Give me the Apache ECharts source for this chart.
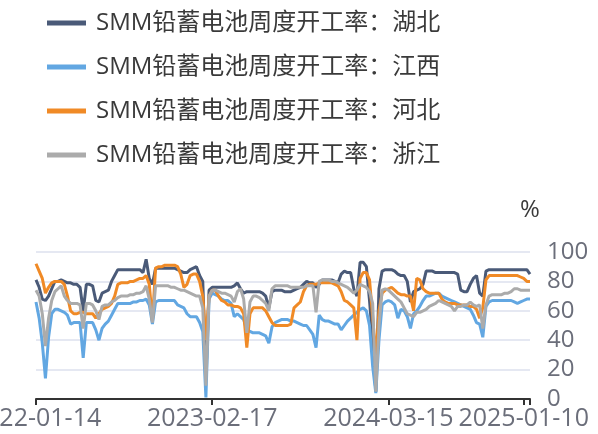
<!DOCTYPE html>
<html>
<head>
<meta charset="utf-8">
<script src="https://cdn.jsdelivr.net/npm/echarts@6/dist/echarts.min.js"></script>
<style>
html,body{margin:0;padding:0;background:#fff;}
#c{width:598px;height:434px;}
</style>
</head>
<body>
<div id="c"></div>
<script>
// Weekly report dates (no report in the Spring Festival week 2023-01-27)
const startDate = '2022-01-14';
const pointCount = 158;
const skippedDates = ['2023-01-27'];
const tickLabels = ['2022-01-14', '2023-02-17', '2024-03-15', '2025-01-10'];

const seriesNames = [
  'SMM铅蓄电池周度开工率：湖北',
  'SMM铅蓄电池周度开工率：江西',
  'SMM铅蓄电池周度开工率：河北',
  'SMM铅蓄电池周度开工率：浙江'
];

const hubei = [
  81, 76, 68, 67, 70, 75, 80, 80, 81, 80,
  79, 79, 78, 78, 76, 60, 78, 78, 77, 67,
  66, 72, 73, 74, 80, 84, 88, 88, 88, 88,
  88, 88, 88, 88, 86, 95, 82, 78, 89, 89,
  89, 89, 89, 89, 89, 88, 87, 86, 86, 88,
  89, 90, 84, 80, 15, 74, 76, 76, 76, 76,
  76, 76, 76, 77, 79, 75, 72, 73, 73, 73,
  73, 73, 72, 70, 62, 73, 74, 74, 74, 73,
  73, 73, 74, 75, 76, 78, 80, 79, 79, 76,
  78, 81, 81, 81, 81, 80, 79, 85, 87, 86,
  86, 75, 70, 93, 93, 90, 67, 40, 5, 75,
  87, 88, 88, 88, 87, 85, 84, 84, 80, 66,
  73, 74, 75, 78, 87, 87, 87, 86, 86, 86,
  86, 86, 86, 86, 85, 74, 73, 73, 78, 82,
  84, 72, 70, 87, 88, 88, 88, 88, 88, 88,
  88, 88, 88, 88, 88, 88, 88, 85
];

const jiangxi = [
  66, 55, 38, 14, 42, 58, 61, 61, 60, 59,
  57, 51, 52, 52, 52, 28, 52, 52, 52, 47,
  40, 48, 51, 53, 57, 61, 65, 65, 65, 65,
  65, 66, 66, 67, 67, 68, 64, 51, 66, 67,
  67, 67, 67, 67, 67, 64, 63, 62, 58, 56,
  56, 56, 52, 46, 1, 68, 72, 71, 70, 68,
  67, 67, 65, 56, 58, 56, 54, 47, 46, 45,
  45, 45, 44, 43, 38, 49, 52, 53, 54, 54,
  54, 53, 53, 52, 51, 50, 50, 47, 44, 35,
  57, 54, 53, 53, 52, 51, 51, 47, 50, 53,
  55, 57, 59, 61, 62, 60, 50, 22, 4, 40,
  64, 66, 67, 66, 64, 55, 61, 60, 56, 48,
  58, 60, 63, 67, 70, 70, 71, 72, 72, 70,
  69, 68, 67, 66, 65, 64, 63, 62, 61, 57,
  52, 51, 42, 63, 66, 67, 67, 67, 67, 67,
  67, 67, 66, 65, 66, 67, 68, 68
];

const hebei = [
  92, 87, 82, 72, 76, 79, 80, 80, 80, 78,
  70, 60, 58, 58, 59, 59, 58, 58, 58, 55,
  58, 61, 62, 63, 65, 70, 78, 79, 79, 79,
  80, 80, 81, 82, 82, 84, 78, 53, 89, 90,
  90, 91, 91, 91, 91, 90, 85, 76, 78, 84,
  85, 85, 80, 70, 40, 70, 74, 74, 70, 67,
  66, 64, 64, 63, 63, 62, 58, 35, 58, 62,
  62, 62, 62, 60, 56, 52, 50, 50, 50, 50,
  50, 51, 62, 64, 66, 73, 77, 78, 78, 78,
  79, 79, 79, 79, 79, 78, 77, 73, 67, 66,
  64, 62, 40, 82, 86, 86, 81, 56, 28, 60,
  72, 74, 75, 76, 74, 72, 71, 71, 70, 70,
  60, 82, 81, 75, 73, 72, 72, 72, 72, 68,
  66, 65, 65, 65, 64, 64, 64, 64, 63, 63,
  61, 55, 62, 81, 84, 84, 84, 84, 84, 84,
  84, 84, 84, 84, 83, 82, 80, 80
];

const zhejiang = [
  74, 70, 58, 36, 55, 67, 73, 75, 77, 70,
  67, 65, 65, 65, 64, 48, 65, 65, 64, 60,
  54, 63, 64, 64, 66, 67, 69, 70, 70, 70,
  71, 71, 72, 72, 73, 77, 68, 52, 77, 77,
  77, 77, 77, 76, 76, 75, 74, 74, 73, 72,
  71, 70, 70, 62, 9, 70, 74, 74, 73, 72,
  72, 71, 70, 66, 73, 75, 68, 45, 66, 70,
  70, 69, 67, 65, 60, 75, 77, 77, 77, 77,
  77, 76, 76, 76, 76, 76, 77, 77, 77, 59,
  80, 81, 81, 81, 80, 80, 79, 78, 77, 76,
  74, 72, 74, 78, 77, 76, 73, 65, 5, 50,
  74, 75, 74, 72, 70, 68, 66, 62, 58, 57,
  56, 59, 59, 60, 61, 63, 64, 65, 67, 66,
  65, 64, 63, 60, 63, 63, 64, 64, 66, 64,
  63, 64, 48, 64, 70, 71, 71, 71, 71, 72,
  72, 73, 75, 75, 74, 74, 74, 74
];

const yTicks = { min: 0, max: 100, interval: 20 };

function buildDates() {
  const out = [];
  let t = Date.UTC(2022, 0, 14);
  while (out.length < pointCount) {
    const s = new Date(t).toISOString().slice(0, 10);
    if (skippedDates.indexOf(s) < 0) out.push(s);
    t += 7 * 86400000;
  }
  return out;
}
const dates = buildDates();

const colors = ['#4a5a78', '#62a7e2', '#f08a26', '#ababab'];
const FONT = '"Open Sans", "Noto Sans CJK SC", sans-serif';
const values = [hubei, jiangxi, hebei, zhejiang];

const chart = echarts.init(document.getElementById('c'), null, { renderer: 'canvas' });
chart.setOption({
  animation: false,
  color: colors,
  textStyle: { fontFamily: FONT },
  legend: {
    orient: 'vertical',
    left: 42,
    top: 3,
    itemWidth: 39,
    itemHeight: 5,
    itemGap: 14,
    icon: 'rect',
    data: seriesNames,
    textStyle: {
      fontFamily: FONT,
      fontSize: 24,
      color: '#3a3a3a',
      lineHeight: 30,
      padding: [0, 0, 0, 5]
    }
  },
  grid: { left: 36, right: 68, top: 252, bottom: 35, containLabel: false, outerBoundsMode: 'none' },
  xAxis: {
    type: 'category',
    data: dates,
    boundaryGap: false,
    axisLine: { lineStyle: { color: '#333333', width: 2 } },
    axisTick: {
      show: true,
      length: 6,
      lineStyle: { color: '#333333', width: 2 },
      interval: function (idx, val) { return tickLabels.indexOf(val) >= 0 || idx === dates.length - 1; }
    },
    axisLabel: {
      interval: function (idx, val) { return tickLabels.indexOf(val) >= 0; },
      hideOverlap: false,
      fontFamily: FONT,
      fontSize: 25,
      color: '#6b6e7a',
      margin: 7
    },
    splitLine: { show: false }
  },
  yAxis: {
    type: 'value',
    position: 'right',
    min: yTicks.min,
    max: yTicks.max,
    interval: yTicks.interval,
    name: '%',
    nameLocation: 'end',
    nameGap: 30,
    nameTextStyle: { fontFamily: FONT, fontSize: 24, color: '#3a3a3a' },
    axisLine: { show: false },
    axisTick: { show: false },
    axisLabel: { fontFamily: FONT, fontSize: 24, color: '#6b6e7a', margin: 17 },
    splitLine: { lineStyle: { color: '#dde1ee', width: 1.5 } }
  },
  series: seriesNames.map(function (n, k) {
    return {
      name: n,
      type: 'line',
      data: values[k],
      showSymbol: false,
      symbol: 'none',
      lineStyle: { width: 3, color: colors[k] },
      itemStyle: { color: colors[k] }
    };
  })
});
</script>
</body>
</html>
